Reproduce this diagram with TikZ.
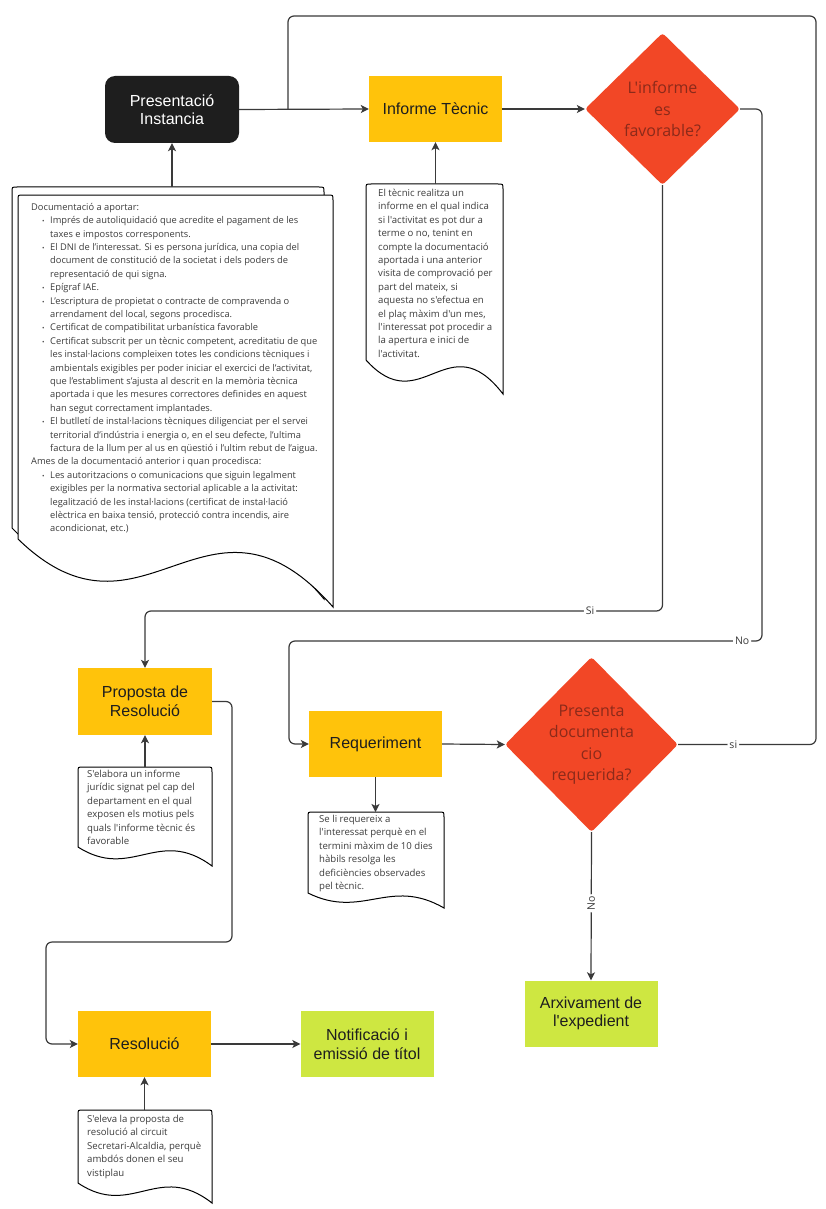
\documentclass[tikz,border=0pt]{standalone}
\usepackage{fontspec}
\setmainfont{Liberation Sans}[Ligatures=TeXOff]
\newfontfamily\osans{Open Sans}[Ligatures=TeXOff]
\usetikzlibrary{shapes.geometric,arrows.meta}
\definecolor{ylw}{HTML}{FFC30B}
\definecolor{grn}{HTML}{CEE741}
\definecolor{redd}{HTML}{F24726}
\definecolor{dtext}{HTML}{8B2A1A}
\definecolor{blk}{HTML}{1E1E1E}
\definecolor{lin}{HTML}{3A3A3A}
\definecolor{ntext}{HTML}{3C3C3C}
\newcommand\docshp[5]{%
  \filldraw[docline] (#1,#4) -- (#1,{#2+5}) .. controls (#1,#2) .. ({#1+5},#2) -- ({#3-5},#2) .. controls (#3,#2) .. (#3,{#2+5}) -- (#3,#5) .. controls ({#1+0.6*(#3-#1)},{#4-1.1*(#5-#4)}) and ({#1+0.4*(#3-#1)},{#4+1.8*(#5-#4)}) .. (#1,#4) -- cycle;}
\newcommand\bul{\hspace*{11pt}\makebox[8pt][l]{\scalebox{0.7}{•}}}
\newcommand\ind{\hspace*{19pt}}
\begin{document}
\begin{tikzpicture}[x=1pt,y=-1pt,
  docline/.style={draw=black,fill=white,line width=1pt},
  box/.style={minimum width=133pt,minimum height=66pt,inner sep=0pt,align=center,font=\fontsize{16}{18.5}\selectfont},
  ybox/.style={box,fill=ylw,text=blk},
  gbox/.style={box,fill=grn,text=blk},
  dia/.style={diamond,fill=redd,inner sep=0pt,align=center,text=dtext,rounded corners=3pt,font=\osans\fontsize{16}{21.5}\selectfont},
  notetext/.style={anchor=north west,inner sep=0pt,align=left,text=ntext,font=\osans\fontsize{9.6}{13.4}\selectfont},
  arr/.style={draw=lin,line width=1.2pt,rounded corners=6pt,-{Stealth[length=8pt,width=8pt,inset=2pt]}},
  con/.style={draw=lin,line width=1.2pt,rounded corners=6pt},
  lab/.style={fill=white,inner sep=2pt,text=lin,font=\osans\fontsize{10.5}{12}\selectfont}]
\useasboundingbox (0,0) rectangle (826,1209);
\fill[white] (0,0) rectangle (826,1209);

% main boxes
\node[box,fill=blk,text=white,rounded corners=10pt,minimum width=134pt,minimum height=67pt] (pi) at (172,109.5) {Presentació\\Instancia};
\node[ybox] (it) at (435.5,109) {Informe Tècnic};
\node[dia,minimum width=155pt,minimum height=152pt] (d1) at (662.5,109) {L'informe\\es\\favorable?};
\node[ybox,minimum width=134pt,minimum height=67pt] (pr) at (145,701.5) {Proposta de\\Resolució};
\node[ybox] (rq) at (375.5,744) {Requeriment};
\node[dia,minimum width=173pt,minimum height=175pt] (d2) at (591.5,744.5) {Presenta\\documenta\\cio\\requerida?};
\node[gbox] (ar) at (591,1013.5) {Arxivament de\\l'expedient};
\node[ybox] (rs) at (144.5,1044) {Resolució};
\node[gbox] (nt) at (367,1044) {Notificació i\\emissió de títol};

% documents
\docshp{12}{187}{324}{528}{599}
\docshp{18}{195}{333}{539}{607}
\coordinate (bigtop) at (172,187);
\node[notetext,font=\osans\fontsize{9.3}{13.4}\selectfont] (bigtext) at (31,203) {Documentació a aportar:\\
\bul Imprés de autoliquidació que acredite el pagament de les\\
\ind taxes e impostos corresponents.\\
\bul El DNI de l’interessat. Si es persona jurídica, una copia del\\
\ind document de constitució de la societat i dels poders de\\
\ind representació de qui signa.\\
\bul Epígraf IAE.\\
\bul L’escriptura de propietat o contracte de compravenda o\\
\ind arrendament del local, segons procedisca.\\
\bul Certificat de compatibilitat urbanística favorable\\
\bul Certificat subscrit per un tècnic competent, acreditatiu de que\\
\ind les instal·lacions compleixen totes les condicions tècniques i\\
\ind ambientals exigibles per poder iniciar el exercici de l’activitat,\\
\ind que l’establiment s’ajusta al descrit en la memòria tècnica\\
\ind aportada i que les mesures correctores definides en aquest\\
\ind han segut correctament implantades.\\
\bul El butlletí de instal·lacions tècniques diligenciat per el servei\\
\ind territorial d’indústria i energia o, en el seu defecte, l’ultima\\
\ind factura de la llum per al us en qüestió i l’ultim rebut de l’aigua.\\
Ames de la documentació anterior i quan procedisca:\\
\bul Les autoritzacions o comunicacions que siguin legalment\\
\ind exigibles per la normativa sectorial aplicable a la activitat:\\
\ind legalització de les instal·lacions (certificat de instal·lació\\
\ind elèctrica en baixa tensió, protecció contra incendis, aire\\
\ind acondicionat, etc.)};

\docshp{366}{184}{503}{360}{394}
\coordinate (n1top) at (435.5,184);
\node[notetext] (n1text) at (378,189) {El tècnic realitza un\\informe en el qual indica\\si l'activitat es pot dur a\\terme o no, tenint en\\compte la documentació\\aportada i una anterior\\visita de comprovació per\\part del mateix, si\\aquesta no s'efectua en\\el plaç màxim d'un mes,\\l'interessat pot procedir a\\la apertura e inici de\\l'activitat.};

\docshp{78}{767}{212}{847}{866}
\coordinate (n2top) at (145,767);
\node[notetext] (n2text) at (87,770) {S'elabora un informe\\jurídic signat pel cap del\\departament en el qual\\exposen els motius pels\\quals l'informe tècnic és\\favorable};

\docshp{308}{812}{444}{893}{908}
\coordinate (n3top) at (375.5,812);
\node[notetext] (n3text) at (319,815) {Se li requereix a\\l'interessat perquè en el\\termini màxim de 10 dies\\hàbils resolga les\\deficiències observades\\pel tècnic.};

\docshp{78}{1110}{212}{1183}{1203}
\coordinate (n4top) at (144.5,1110);
\node[notetext] (n4text) at (87,1115) {S'eleva la proposta de\\resolució al circuit\\Secretari-Alcaldia, perquè\\ambdós donen el seu\\vistiplau};

% connectors
\coordinate (merge) at (288,109);
\draw[arr] (bigtop) -- (pi.south);
\draw[arr] (pi.east) -- (it.west);
\draw[arr] (n1top) -- (it.south);
\draw[arr] (it.east) -- (d1.west);
\draw[arr] (d1.south) -- (662.5,611) -- node[lab,pos=0.14]{Si} (145,611) -- (pr.north);
\draw[arr] (d1.east) -- (762,109) -- (762,641) -- node[lab,pos=0.042]{No} (289,641) -- (289,744) -- (rq.west);
\draw[con] (d2.east) -- node[lab,pos=0.4]{si} (816,744.5) -- (816,16) -- (288,16) -- (merge);
\draw[arr] (n2top) -- (pr.south);
\draw[arr] (pr.east) -- (232,701.5) -- (232,942) -- (46,942) -- (46,1044) -- (rs.west);
\draw[arr] (rs.east) -- (nt.west);
\draw[arr] (n4top) -- (rs.south);
\draw[arr] (rq.east) -- (d2.west);
\draw[arr] (rq.south) -- (n3top);
\draw[arr] (d2.south) -- node[lab,rotate=90,pos=0.48]{No} (ar.north);
\end{tikzpicture}
\end{document}
